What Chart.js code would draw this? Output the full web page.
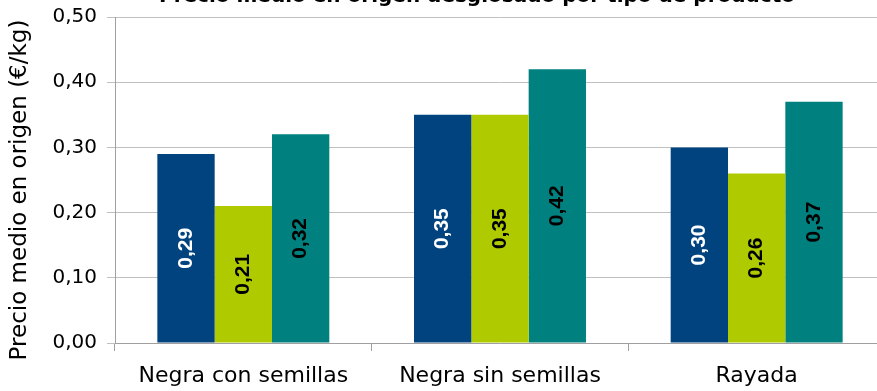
<!DOCTYPE html>
<html>
<head>
<meta charset="utf-8">
<script src="https://cdn.jsdelivr.net/npm/chart.js@4"></script>
<style>
  html, body { margin: 0; padding: 0; background: #fff; overflow: hidden; }
  #wrap { position: absolute; left: 0; top: -24px; width: 890px; height: 415px; }
</style>
</head>
<body>
<div id="wrap"><canvas id="grafico-precios"></canvas></div>
<script>
// Precio medio en origen por tipo de producto (€/kg)
const categorias = ['Negra con semillas', 'Negra sin semillas', 'Rayada'];
const serie1 = [0.29, 0.35, 0.30];
const serie2 = [0.21, 0.35, 0.26];
const serie3 = [0.32, 0.42, 0.37];
const ticksY = [0, 0.1, 0.2, 0.3, 0.4, 0.5];

const titulo = 'Precio medio en origen desglosado por tipo de producto';
const tituloEje = 'Precio medio en origen (€/kg)';

const colores = ['#00437F', '#AFCB00', '#00807F'];
const coloresTexto = ['#ffffff', '#000000', '#000000'];
const FUENTE = "'DejaVu Sans', sans-serif";

const fmt = v => v.toFixed(2).replace('.', ',');

// Etiquetas de valor giradas dentro de cada barra
const etiquetasBarras = {
    id: 'etiquetasBarras',
    afterDatasetsDraw(chart) {
        const ctx = chart.ctx;
        chart.data.datasets.forEach((ds, i) => {
            const meta = chart.getDatasetMeta(i);
            meta.data.forEach((bar, j) => {
                const yMid = (bar.y + bar.base) / 2;
                ctx.save();
                ctx.translate(bar.x, yMid);
                ctx.rotate(-Math.PI / 2);
                ctx.font = "bold 21px 'Liberation Sans', Arial, sans-serif";
                ctx.fillStyle = coloresTexto[i];
                ctx.textAlign = 'center';
                ctx.textBaseline = 'middle';
                ctx.fillText(fmt(ds.data[j]), 0, 0);
                ctx.restore();
            });
        });
    }
};

// Título del gráfico y título del eje Y dibujados a mano
const titulos = {
    id: 'titulos',
    afterDraw(chart) {
        const ctx = chart.ctx;
        ctx.save();
        ctx.fillStyle = '#000';
        ctx.textAlign = 'center';
        ctx.textBaseline = 'alphabetic';
        ctx.font = "bold 20px 'DejaVu Sans', sans-serif";
        ctx.fillText(titulo, 477, 26);

        ctx.translate(20, 214);
        ctx.rotate(-Math.PI / 2);
        ctx.textBaseline = 'middle';
        ctx.font = "23px 'DejaVu Sans', sans-serif";
        ctx.fillText(tituloEje, 0, 0);
        ctx.restore();
    }
};

new Chart(document.getElementById('grafico-precios'), {
    type: 'bar',
    data: {
        labels: categorias,
        datasets: [serie1, serie2, serie3].map((d, i) => ({
            data: d,
            backgroundColor: colores[i],
            borderWidth: 0,
            categoryPercentage: 0.67,
            barPercentage: 1
        }))
    },
    options: {
        responsive: true,
        maintainAspectRatio: false,
        animation: false,
        layout: { padding: { left: 0, right: 5, top: 41, bottom: 0 } },
        plugins: {
            legend: { display: false },
            tooltip: { enabled: false },
            title: { display: false }
        },
        scales: {
            x: {
                grid: { display: true, drawOnChartArea: false, tickLength: 8, color: '#a0a0a0' },
                border: { color: '#a0a0a0' },
                ticks: { color: '#000', font: { family: FUENTE, size: 22 }, padding: 12, maxRotation: 0 },
                afterFit: s => { s.height = 48; }
            },
            y: {
                min: 0,
                max: 0.5,
                afterBuildTicks: s => { s.ticks = ticksY.map(v => ({ value: v })); },
                grid: { color: '#c0c0c0', tickLength: 8 },
                border: { color: '#a0a0a0' },
                ticks: { color: '#000', font: { family: FUENTE, size: 20 }, padding: 10, callback: v => fmt(v) },
                afterFit: s => { s.width = 115; }
            }
        }
    },
    plugins: [etiquetasBarras, titulos]
});
</script>
</body>
</html>
